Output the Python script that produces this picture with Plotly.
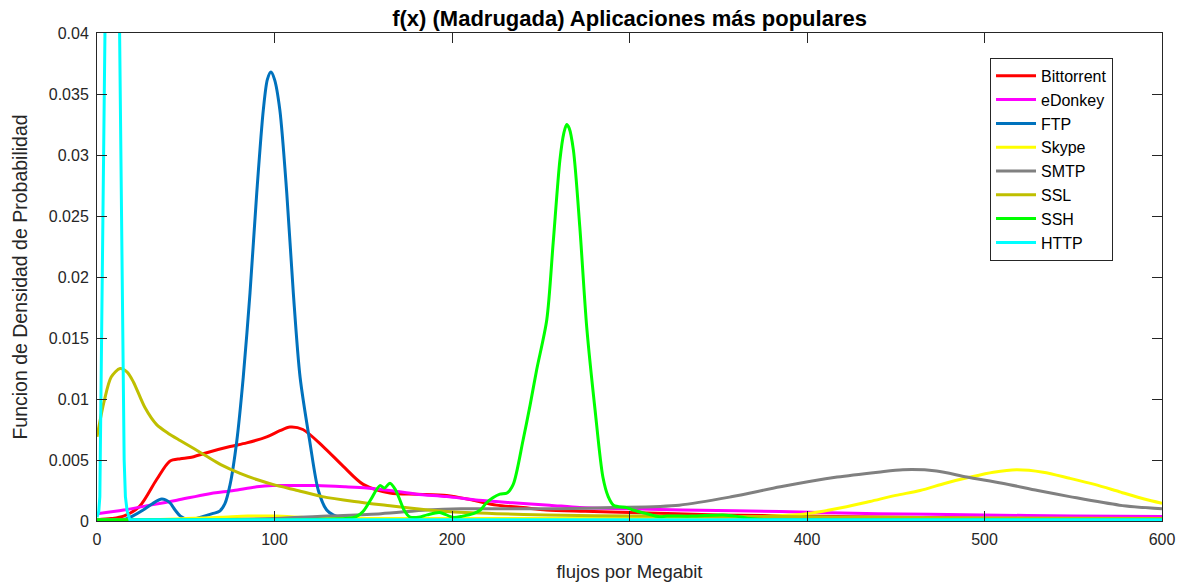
import plotly.graph_objects as go

# ---------------- data ----------------
bt_x = [0, 8, 15, 24, 33.6, 41, 47, 52.4, 61.8, 75, 84.3, 95.6, 103, 108.7, 116, 127.4, 138.6, 150, 165, 180, 197, 212, 225, 240, 253, 275, 300, 350, 400, 450, 500, 550, 600]
bt_y = [0.0001, 0.0002, 0.0004, 0.0012, 0.0034, 0.0049, 0.0051, 0.0052, 0.0056, 0.0061, 0.0064, 0.0069, 0.0074, 0.0077, 0.0075, 0.0061, 0.0045, 0.0030, 0.0023, 0.0022, 0.0021, 0.0017, 0.0013, 0.0011, 0.0009, 0.0008, 0.0007, 0.0005, 0.0004, 0.0003, 0.00025, 0.0002, 0.0002]

ed_x = [0, 15, 30, 45, 62, 77, 90, 99, 110, 124, 140, 152, 165, 180, 197, 215, 234, 255, 272, 300, 330, 385, 440, 499, 550, 600]
ed_y = [0.0006, 0.0009, 0.0013, 0.0017, 0.0022, 0.0025, 0.0028, 0.0029, 0.0029, 0.0029, 0.0028, 0.0027, 0.0025, 0.0022, 0.0020, 0.0017, 0.0015, 0.0013, 0.0011, 0.0010, 0.0009, 0.00077, 0.0006, 0.0005, 0.0004, 0.00036]

ftp_x = [0, 10, 15, 20, 26, 31, 36.5, 41, 44, 47, 52, 58, 65, 69, 72, 75, 78.7, 82.4, 86.2, 90, 93.7, 96, 98, 100, 103, 106.9, 110.6, 114.4, 120, 124.7, 129.4, 133, 137, 145, 160, 200, 300, 400, 600]
ftp_y = [0, 0, 0.0001, 0.0004, 0.0009, 0.0014, 0.0018, 0.0015, 0.0009, 0.0004, 0.0001, 0.0003, 0.0006, 0.0008, 0.0014, 0.0030, 0.0065, 0.0118, 0.0187, 0.0269, 0.0337, 0.0362, 0.0368, 0.0362, 0.0337, 0.0269, 0.0187, 0.0118, 0.0064, 0.0025, 0.0009, 0.0005, 0.0003, 0.0002, 0.0001, 0.0001, 0.0001, 0.0001, 0.0001]

sk_x = [0, 30, 50, 70, 85, 100, 115, 130, 150, 200, 250, 300, 350, 380, 400, 420, 435.5, 450, 463.7, 478, 492, 505, 518, 533, 548, 562, 576, 590, 600]
sk_y = [0.0001, 0.0001, 0.0002, 0.0003, 0.0004, 0.0004, 0.0003, 0.0002, 0.0002, 0.0002, 0.0002, 0.0002, 0.0003, 0.0004, 0.0006, 0.0011, 0.0016, 0.0021, 0.0025, 0.0031, 0.0036, 0.0040, 0.0042, 0.0040, 0.0035, 0.0030, 0.0024, 0.0018, 0.00145]

smtp_x = [0, 50, 100, 130, 160, 186, 205, 234, 260, 291, 328, 358, 385, 417, 440, 454, 473, 490, 510, 530, 548, 576, 600]
smtp_y = [0.0001, 0.0001, 0.0002, 0.0004, 0.0006, 0.0009, 0.0010, 0.0010, 0.0010, 0.0011, 0.0013, 0.0020, 0.0028, 0.0036, 0.0040, 0.0042, 0.0041, 0.0036, 0.0031, 0.0025, 0.0020, 0.0013, 0.0010]

ssl_x = [0, 4, 8, 13, 17, 20.5, 27, 33.6, 40, 46.8, 55, 61.8, 70, 80.6, 90, 99, 113, 127, 145, 165, 180, 197, 225, 253, 300, 385, 450, 500, 600]
ssl_y = [0.0069, 0.0098, 0.0118, 0.0125, 0.0122, 0.0114, 0.0093, 0.0079, 0.0072, 0.0066, 0.0059, 0.0053, 0.0046, 0.0039, 0.0034, 0.0030, 0.0025, 0.0020, 0.0016, 0.00125, 0.0010, 0.00077, 0.0006, 0.0005, 0.0004, 0.00036, 0.0003, 0.00025, 0.0002]

ssh_x = [0, 100, 140, 146, 150, 154, 159.4, 162, 165, 168, 170.7, 173, 176, 181, 186, 193, 200.6, 206, 212, 216, 219.5, 223, 227, 231, 234.5, 240, 244, 247.7, 253.4, 257, 260.8, 263, 264.6, 266, 268.4, 272, 275.9, 280.6, 285, 288, 291, 298.4, 302, 309.7, 317, 321, 335, 352.7, 360, 368, 380, 450, 600]
ssh_y = [0.0001, 0.0001, 0.0002, 0.00035, 0.0008, 0.0017, 0.0029, 0.0027, 0.0031, 0.0026, 0.0017, 0.0009, 0.00035, 0.0003, 0.0005, 0.0007, 0.0003, 0.0004, 0.0006, 0.0009, 0.0015, 0.0019, 0.0022, 0.0023, 0.0030, 0.0066, 0.0095, 0.0124, 0.0165, 0.0228, 0.0296, 0.0318, 0.0325, 0.0322, 0.0304, 0.0241, 0.0159, 0.0091, 0.0036, 0.0020, 0.0013, 0.0011, 0.0009, 0.0006, 0.00035, 0.0004, 0.0004, 0.0005, 0.0004, 0.0002, 0.0001, 0.0001, 0.0001]

http_x = [0, 1, 1.6, 2.5, 3.5, 4.5, 6, 8, 10, 12, 12.7, 13.5, 14.5, 15.3, 16, 17, 18.5, 20, 30, 100, 300, 600]
http_y = [0.0003, 0.0008, 0.002, 0.013, 0.027, 0.040, 0.060, 0.070, 0.065, 0.050, 0.040, 0.025, 0.0125, 0.005, 0.002, 0.0008, 0.0001, 0.0001, 0.0001, 0.0001, 0.0001, 0.0001]

names = ["Bittorrent", "eDonkey", "FTP", "Skype", "SMTP", "SSL", "SSH", "HTTP"]
colors = ["#FF0000", "#FF00FF", "#0072BD", "#FFFF00", "#808080", "#BFBF00", "#00FF00", "#00FFFF"]
xs = [bt_x, ed_x, ftp_x, sk_x, smtp_x, ssl_x, ssh_x, http_x]
ys = [bt_y, ed_y, ftp_y, sk_y, smtp_y, ssl_y, ssh_y, http_y]

x_ticks = [0, 100, 200, 300, 400, 500, 600]
y_ticks = [0, 0.005, 0.01, 0.015, 0.02, 0.025, 0.03, 0.035, 0.04]
y_tick_text = ["0", "0.005", "0.01", "0.015", "0.02", "0.025", "0.03", "0.035", "0.04"]

fig = go.Figure()
for n, c, x, y in zip(names, colors, xs, ys):
    shape = "linear" if n == "HTTP" else "spline"
    fig.add_trace(go.Scatter(x=x, y=y, mode="lines", name=n,
                             line=dict(color=c, width=3, shape=shape, smoothing=0.8)))

axis_col = "#262626"
fig.update_layout(
    width=1189, height=584,
    margin=dict(l=97, r=27, t=33, b=63),
    paper_bgcolor="white", plot_bgcolor="white",
    font=dict(family="Liberation Sans, Arial, sans-serif", size=16, color=axis_col),
    title=dict(text="<b>f(x) (Madrugada) Aplicaciones más populares</b>",
               x=0.5295, xanchor="center", y=0.968, yanchor="middle",
               font=dict(size=22, color="black")),
    showlegend=True,
    legend=dict(x=0.954, y=0.949, xanchor="right", yanchor="top",
                bgcolor="white", bordercolor=axis_col, borderwidth=1,
                font=dict(size=16, color="black"), tracegroupgap=0, itemwidth=40),
)
fig.update_xaxes(range=[0, 600], tickvals=x_ticks, ticks="inside", ticklen=10,
                 tickcolor=axis_col, showline=True, linecolor=axis_col, linewidth=1,
                 mirror="ticks", showgrid=False, zeroline=False, ticklabelstandoff=4,
                 automargin=False,
                 title=dict(text="flujos por Megabit", font=dict(size=18.5), standoff=17),
                 tickfont=dict(size=16))
fig.update_yaxes(range=[0, 0.04], tickvals=y_ticks, ticktext=y_tick_text, ticks="inside",
                 ticklen=10, tickcolor=axis_col, showline=True, linecolor=axis_col,
                 linewidth=1, mirror="ticks", showgrid=False, zeroline=False, ticklabelstandoff=4,
                 automargin=False,
                 title=dict(text="Funcion de Densidad de Probabilidad", font=dict(size=19.5), standoff=15),
                 tickfont=dict(size=16))

fig.write_html("out.html")
